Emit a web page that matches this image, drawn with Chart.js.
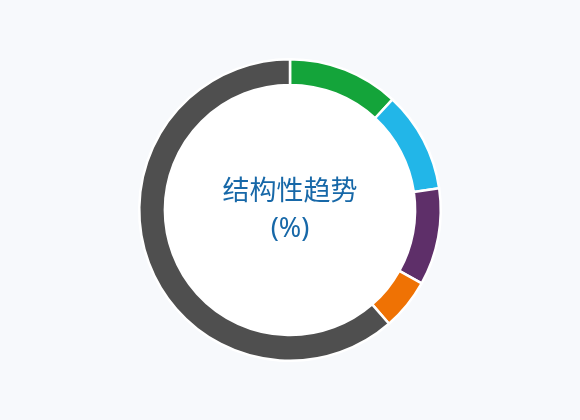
<!DOCTYPE html>
<html>
<head>
<meta charset="utf-8">
<script src="https://cdn.jsdelivr.net/npm/chart.js@4"></script>
<style>
html,body{margin:0;padding:0;background:#f7f9fc;}
#wrap{width:580px;height:420px;}
</style>
</head>
<body>
<div id="wrap"><canvas id="c" width="580" height="420"></canvas></div>
<script>
const categories = ["A", "B", "C", "D", "E"];
const values = [11.9, 10.8, 10.4, 5.5, 61.4];
const colors = ["#14a43a", "#22b6e8", "#5e2f69", "#ef7204", "#4f4f4f"];
const centerLines = ["结构性趋势", "(%)"];

const centerPlugin = {
  id: 'centerText',
  beforeDatasetsDraw(chart) {
    const arc = chart.getDatasetMeta(0).data[0];
    if (!arc) return;
    const ctx = chart.ctx;
    ctx.save();
    ctx.beginPath();
    ctx.arc(arc.x, arc.y, arc.outerRadius, 0, Math.PI * 2);
    ctx.fillStyle = '#ffffff';
    ctx.fill();
    ctx.restore();
  },
  afterDatasetsDraw(chart) {
    const arc = chart.getDatasetMeta(0).data[0];
    if (!arc) return;
    const ctx = chart.ctx;
    ctx.save();
    ctx.fillStyle = '#1768a8';
    ctx.textAlign = 'center';
    ctx.textBaseline = 'middle';
    ctx.font = '27px "Noto Sans CJK SC", "Noto Sans", sans-serif';
    ctx.fillText(centerLines[0], arc.x, arc.y - 20);
    ctx.font = '27px "Noto Sans", "Noto Sans CJK SC", sans-serif';
    ctx.fillText(centerLines[1], arc.x, arc.y + 19);
    ctx.restore();
  }
};

new Chart(document.getElementById('c'), {
  type: 'doughnut',
  data: {
    labels: categories,
    datasets: [{
      data: values,
      backgroundColor: colors,
      borderColor: '#ffffff',
      borderWidth: 2.5
    }]
  },
  options: {
    responsive: false,
    animation: false,
    cutout: '83%',
    layout: { padding: { top: 58, bottom: 58, left: 0, right: 0 } },
    plugins: {
      legend: { display: false },
      tooltip: { enabled: false }
    }
  },
  plugins: [centerPlugin]
});
</script>
</body>
</html>
